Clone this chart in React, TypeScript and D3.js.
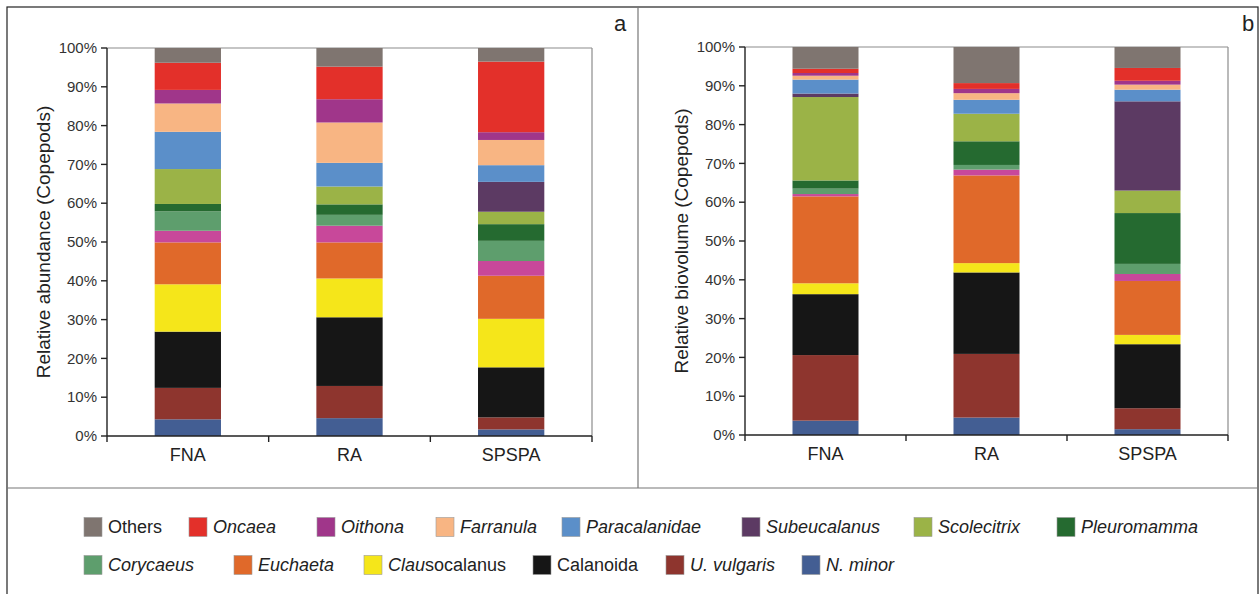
import React from "react";
import * as d3 from "d3";

// Sites on the x axis
const sites = ["FNA", "RA", "SPSPA"];

// Stacking order, bottom to top
const taxa = [
  "N. minor",
  "U. vulgaris",
  "Calanoida",
  "Clausocalanus",
  "Euchaeta",
  "Acartia",
  "Corycaeus",
  "Pleuromamma",
  "Scolecitrix",
  "Subeucalanus",
  "Paracalanidae",
  "Farranula",
  "Oithona",
  "Oncaea",
  "Others",
];

const taxonColors = [
  "#435e93",
  "#8e352e",
  "#161616",
  "#f5e61a",
  "#e0692a",
  "#c8489a",
  "#5e9e6d",
  "#256a30",
  "#9bb347",
  "#5c3a63",
  "#5b8fc9",
  "#f8b583",
  "#a0368a",
  "#e3302a",
  "#7f7570",
];

// Relative abundance (%) per taxon, one value per site
const abundanceFNA = [4.3, 8.1, 14.5, 12.2, 10.8, 3.0, 5.0, 1.9, 9.0, 0, 9.6, 7.3, 3.5, 7.0, 3.8];
const abundanceRA = [4.6, 8.3, 17.7, 10.0, 9.3, 4.3, 2.8, 2.7, 4.6, 0, 6.1, 10.4, 6.0, 8.4, 4.8];
const abundanceSPSPA = [1.7, 3.1, 12.9, 12.5, 11.1, 3.8, 5.2, 4.3, 3.2, 7.7, 4.3, 6.5, 2.0, 18.2, 3.5];

// Relative biovolume (%) per taxon, one value per site
const biovolumeFNA = [3.7, 16.9, 15.7, 2.8, 22.4, 0.6, 1.4, 2.1, 21.5, 0.9, 3.6, 1.0, 0.7, 1.1, 5.6];
const biovolumeRA = [4.5, 16.4, 21.0, 2.4, 22.6, 1.5, 1.2, 6.1, 7.1, 0, 3.6, 1.7, 1.1, 1.5, 9.3];
const biovolumeSPSPA = [1.5, 5.4, 16.5, 2.4, 13.9, 1.8, 2.6, 13.1, 5.8, 23.0, 3.0, 1.3, 1.0, 3.3, 5.4];

const yTicks = [0, 10, 20, 30, 40, 50, 60, 70, 80, 90, 100];

// Legend rows
const legendRow1 = ["Others", "Oncaea", "Oithona", "Farranula", "Paracalanidae", "Subeucalanus", "Scolecitrix", "Pleuromamma"];
const legendRow2 = ["Corycaeus", "Euchaeta", "Clausocalanus", "Calanoida", "U. vulgaris", "N. minor"];
const romanLabels = ["Others", "Calanoida"];

const FONT = "'Liberation Sans', Arial, sans-serif";

type PanelProps = {
  x0: number;
  x1: number;
  yTop: number;
  yBottom: number;
  rows: number[][];
  title: string;
  letter: string;
  letterX: number;
  titleX: number;
};

function Panel({ x0, x1, yTop, yBottom, rows, title, letter, letterX, titleX }: PanelProps) {
  const x = d3.scaleBand<string>().domain(sites).range([x0, x1]).paddingInner(0.59).paddingOuter(0.295);
  const y = d3.scaleLinear().domain([0, 100]).range([yBottom, yTop]);

  const table = sites.map((s, i) => {
    const o: Record<string, any> = { site: s };
    taxa.forEach((t, j) => (o[t] = rows[i][j]));
    return o;
  });
  const stacked = d3.stack<Record<string, any>>().keys(taxa)(table);

  const bandStep = (x1 - x0) / sites.length;
  const boundaries = d3.range(sites.length + 1).map((i) => x0 + i * bandStep);

  return (
    <g>
      {/* plot area frame */}
      <line x1={x0} x2={x1} y1={yTop} y2={yTop} stroke="#8c8c8c" strokeWidth={1.2} />
      <line x1={x1} x2={x1} y1={yTop} y2={yBottom} stroke="#8c8c8c" strokeWidth={1.2} />

      {stacked.map((layer, li) => (
        <g key={taxa[li]} fill={taxonColors[li]}>
          {layer.map((d) => {
            const h = y(d[0]) - y(d[1]);
            if (h <= 0) return null;
            return (
              <rect
                key={d.data.site}
                x={x(d.data.site)}
                y={y(d[1])}
                width={x.bandwidth()}
                height={h}
              />
            );
          })}
        </g>
      ))}

      {/* y axis */}
      <line x1={x0} x2={x0} y1={yTop} y2={yBottom} stroke="#222" strokeWidth={1.4} />
      {yTicks.map((t) => (
        <g key={t}>
          <line x1={x0 - 6} x2={x0} y1={y(t)} y2={y(t)} stroke="#222" strokeWidth={1.4} />
          <text
            x={x0 - 10}
            y={y(t)}
            dy="0.35em"
            textAnchor="end"
            fontSize={15}
            fill="#333"
            fontFamily={FONT}
          >
            {t}%
          </text>
        </g>
      ))}

      {/* x axis */}
      <line x1={x0} x2={x1} y1={yBottom} y2={yBottom} stroke="#222" strokeWidth={1.4} />
      {boundaries.map((b, i) => (
        <line key={i} x1={b} x2={b} y1={yBottom} y2={yBottom + 6} stroke="#222" strokeWidth={1.4} />
      ))}
      {sites.map((s) => (
        <text
          key={s}
          x={(x(s) as number) + x.bandwidth() / 2}
          y={yBottom + 25}
          textAnchor="middle"
          fontSize={18}
          fill="#222"
          fontFamily={FONT}
        >
          {s}
        </text>
      ))}

      <text
        transform={`translate(${titleX},${(yTop + yBottom) / 2}) rotate(-90)`}
        textAnchor="middle"
        fontSize={19}
        fill="#222"
        fontFamily={FONT}
      >
        {title}
      </text>

      <text x={letterX} y={31} fontSize={22} fill="#222" fontFamily={FONT} textAnchor="middle">
        {letter}
      </text>
    </g>
  );
}

function LegendItem({ label, x, y }: { label: string; x: number; y: number }) {
  const idx = taxa.indexOf(label);
  const color = taxonColors[idx];
  let content: React.ReactNode;
  if (romanLabels.includes(label)) {
    content = label;
  } else if (label === "Clausocalanus") {
    content = (
      <>
        <tspan fontStyle="italic">Clau</tspan>
        <tspan>socalanus</tspan>
      </>
    );
  } else {
    content = <tspan fontStyle="italic">{label}</tspan>;
  }
  return (
    <g>
      <rect x={x} y={y - 9.5} width={18} height={19} fill={color} stroke="#9a9a9a" strokeWidth={0.6} />
      <text x={x + 24} y={y} dy="0.36em" fontSize={18} fill="#222" fontFamily={FONT}>
        {content}
      </text>
    </g>
  );
}

const legendX1 = [84, 189, 317, 436, 562, 742, 914, 1057];
const legendX2 = [84, 234, 364, 533, 666, 802];

export default function App() {
  return (
    <svg
      width={1260}
      height={594}
      style={{ position: "absolute", left: 0, top: 0, background: "#fff" }}
    >
      {/* outer frame and dividers */}
      <rect x={7} y={7} width={1251} height={600} fill="none" stroke="#222" strokeWidth={1.2} />
      <line x1={7} x2={1258} y1={488} y2={488} stroke="#777" strokeWidth={1.2} />
      <line x1={638} x2={638} y1={7} y2={488} stroke="#777" strokeWidth={1.2} />

      <Panel
        x0={107}
        x1={592}
        yTop={48}
        yBottom={436}
        rows={[abundanceFNA, abundanceRA, abundanceSPSPA]}
        title="Relative abundance (Copepods)"
        letter="a"
        letterX={620}
        titleX={50}
      />
      <Panel
        x0={745}
        x1={1228}
        yTop={47}
        yBottom={435}
        rows={[biovolumeFNA, biovolumeRA, biovolumeSPSPA]}
        title="Relative biovolume (Copepods)"
        letter="b"
        letterX={1248}
        titleX={688}
      />

      {legendRow1.map((l, i) => (
        <LegendItem key={l} label={l} x={legendX1[i]} y={527} />
      ))}
      {legendRow2.map((l, i) => (
        <LegendItem key={l} label={l} x={legendX2[i]} y={565} />
      ))}
    </svg>
  );
}
